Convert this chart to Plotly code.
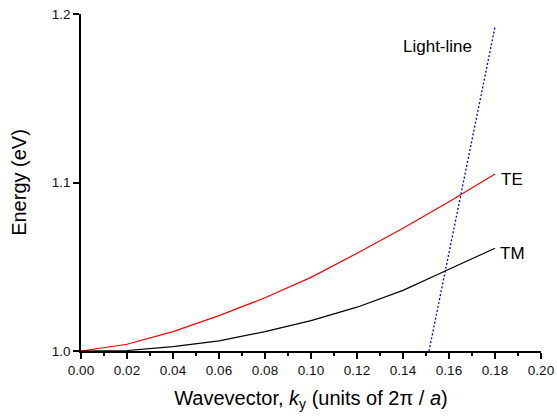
import plotly.graph_objects as go

# Data
k_vals = [0.00, 0.02, 0.04, 0.06, 0.08, 0.10, 0.12, 0.14, 0.16, 0.18]
te_energy = [1.000, 1.004, 1.0115, 1.021, 1.0316, 1.0437, 1.058, 1.0728, 1.0886, 1.105]
tm_energy = [1.000, 1.0003, 1.0026, 1.006, 1.0115, 1.018, 1.026, 1.036, 1.0485, 1.061]
light_k = [0.1513, 0.1801]
light_energy = [1.000, 1.193]

x_ticks = [0.00, 0.02, 0.04, 0.06, 0.08, 0.10, 0.12, 0.14, 0.16, 0.18, 0.20]
y_ticks = [1.0, 1.1, 1.2]

FONT = "Liberation Sans, Arial, sans-serif"

fig = go.Figure()
fig.add_trace(go.Scatter(x=k_vals, y=te_energy, mode="lines",
                         line=dict(color="#ff0000", width=1.2), name="TE"))
fig.add_trace(go.Scatter(x=k_vals, y=tm_energy, mode="lines",
                         line=dict(color="#000000", width=1.2), name="TM"))
fig.add_trace(go.Scatter(x=light_k, y=light_energy, mode="lines",
                         line=dict(color="#0000ff", width=1.3, dash="2px,2px"),
                         name="Light-line"))

fig.add_annotation(x=0.1548, y=1.181, text="Light-line", showarrow=False,
                   font=dict(size=17, color="black", family=FONT))
fig.add_annotation(x=0.1874, y=1.102, text="TE", showarrow=False,
                   font=dict(size=17, color="black", family=FONT))
fig.add_annotation(x=0.1874, y=1.0576, text="TM", showarrow=False,
                   font=dict(size=17, color="black", family=FONT))

fig.update_layout(
    width=557, height=416,
    margin=dict(l=81, r=16, t=14, b=65, autoexpand=False),
    paper_bgcolor="white", plot_bgcolor="white",
    showlegend=False,
    font=dict(family=FONT, color="black"),
)
fig.update_xaxes(
    range=[0, 0.2], tickvals=x_ticks, tickformat=".2f",
    showgrid=False, zeroline=False,
    showline=True, linecolor="black", linewidth=1.5,
    ticks="outside", ticklen=6, tickwidth=1.5, tickcolor="black",
    tickfont=dict(size=13.5, family=FONT, color="#111"),
    minor=dict(ticks="outside", ticklen=3, tickwidth=1.5, tickcolor="black",
               dtick=0.01, tick0=0, showgrid=False),
    title=dict(text="Wavevector, <i>k</i><sub>y</sub> (units of 2π / <i>a</i>)",
               font=dict(size=20, family=FONT, color="black"), standoff=14),
    automargin=False,
)
fig.update_yaxes(
    range=[1.0, 1.2], tickvals=y_ticks, tickformat=".1f",
    showgrid=False, zeroline=False,
    showline=True, linecolor="black", linewidth=1.5,
    ticks="outside", ticklen=6, tickwidth=1.5, tickcolor="black",
    tickfont=dict(size=13.5, family=FONT, color="#111"),
    title=dict(text="Energy (eV)", font=dict(size=20, family=FONT, color="black"), standoff=20),
    automargin=False,
)

fig.write_html("out.html", config={"displayModeBar": False},
               post_script="document.body.style.margin='0';")
